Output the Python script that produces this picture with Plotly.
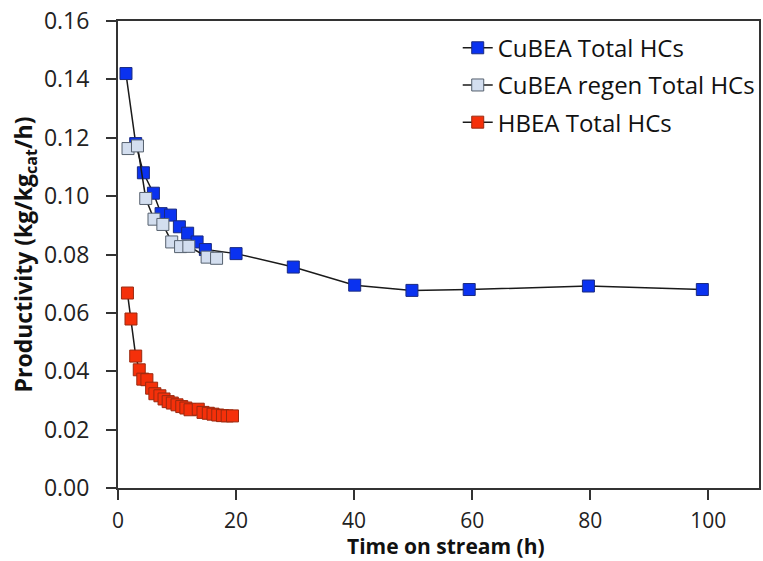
import plotly.graph_objects as go

# Time on stream (h) and productivity (kg/kg_cat/h)
cubea_t = [1.35, 3.0, 4.3, 6.0, 7.3, 8.9, 10.4, 11.8, 13.4, 14.8, 20.0, 29.7, 40.1, 49.8, 59.5, 79.7, 99.0]
cubea_p = [0.142, 0.118, 0.108, 0.101, 0.094, 0.0935, 0.0895, 0.0873, 0.0843, 0.0817, 0.0803, 0.0757, 0.0695, 0.0677, 0.0680, 0.0692, 0.0680]

regen_t = [1.7, 3.3, 4.7, 6.1, 7.6, 9.1, 10.6, 12.0, 15.1, 16.7]
regen_p = [0.1163, 0.1172, 0.0992, 0.0921, 0.0903, 0.0843, 0.0827, 0.0828, 0.0791, 0.0787]

hbea_t = [1.6, 2.2, 3.0, 3.6, 4.2, 4.9, 5.7, 6.25, 7.1, 7.8, 8.5, 9.2, 10.0, 10.8, 11.5,
          12.2, 13.6, 14.4, 15.3, 16.1, 16.9, 17.7, 18.5, 19.4]
hbea_p = [0.0668, 0.0579, 0.0452, 0.0405, 0.0373, 0.0371, 0.0342, 0.0323, 0.0316, 0.0305, 0.0296,
          0.0291, 0.0285, 0.0279, 0.0274, 0.0268, 0.0270, 0.0259, 0.0256, 0.0253, 0.0250, 0.0248,
          0.0247, 0.0247]

series_names = ["CuBEA Total HCs", "CuBEA regen Total HCs", "HBEA Total HCs"]

x_ticks = [0, 20, 40, 60, 80, 100]
y_ticks = [0.00, 0.02, 0.04, 0.06, 0.08, 0.10, 0.12, 0.14, 0.16]

FONT = "Open Sans"

fig = go.Figure()

styles = [
    dict(fill="#0a32f0", edge="#1a2a80"),
    dict(fill="#d3deef", edge="#55606e"),
    dict(fill="#f5300a", edge="#9a2a10"),
]
for name, xs, ys, st in zip(series_names, [cubea_t, regen_t, hbea_t],
                            [cubea_p, regen_p, hbea_p], styles):
    fig.add_trace(go.Scatter(
        x=xs, y=ys, name=name, mode="lines+markers", legendgroup=name,
        line=dict(color="#1a1a1a", width=1.5),
        marker=dict(symbol="square", size=12, color=st["fill"],
                    line=dict(color=st["edge"], width=1)),
    ))

axis_common = dict(
    showline=True, linecolor="#333333", linewidth=2, mirror=True,
    ticks="outside", ticklen=10, tickwidth=1.5, tickcolor="#333333",
    showgrid=False, zeroline=False,
)

fig.update_xaxes(
    range=[0, 108.6], tickvals=x_ticks, ticktext=[str(v) for v in x_ticks],
    ticklabelstandoff=3,
    tickfont=dict(family=FONT, size=21, color="#222222"),
    **axis_common,
)
fig.update_yaxes(
    range=[0, 0.16], tickvals=y_ticks, ticktext=[f"{v:.2f}" for v in y_ticks],
    ticklabelstandoff=12,
    tickfont=dict(family=FONT, size=23, color="#222222"),
    title=dict(text="<b>Productivity (kg/kg<sub>cat</sub>/h)</b>",
               font=dict(family=FONT, size=23, color="#111111"), standoff=5),
    **axis_common,
)

# x-axis title sits tight under the tick labels
fig.add_annotation(
    text="<b>Time on stream (h)</b>", xref="paper", yref="paper",
    x=0.512, y=-0.1563, xanchor="center", yanchor="bottom", yshift=0,
    showarrow=False, borderpad=0,
    font=dict(family=FONT, size=21, color="#111111"),
)

fig.update_layout(
    width=763, height=561,
    margin=dict(l=118, r=2, t=21, b=73),
    plot_bgcolor="white", paper_bgcolor="white",
    showlegend=True,
    legend=dict(
        x=0.530, y=0.99, xanchor="left", yanchor="top",
        font=dict(family=FONT, size=24, color="#111111"),
        bgcolor="rgba(0,0,0,0)", traceorder="grouped", tracegroupgap=3,
        itemwidth=30,
    ),
)

fig.write_html("out.html")
